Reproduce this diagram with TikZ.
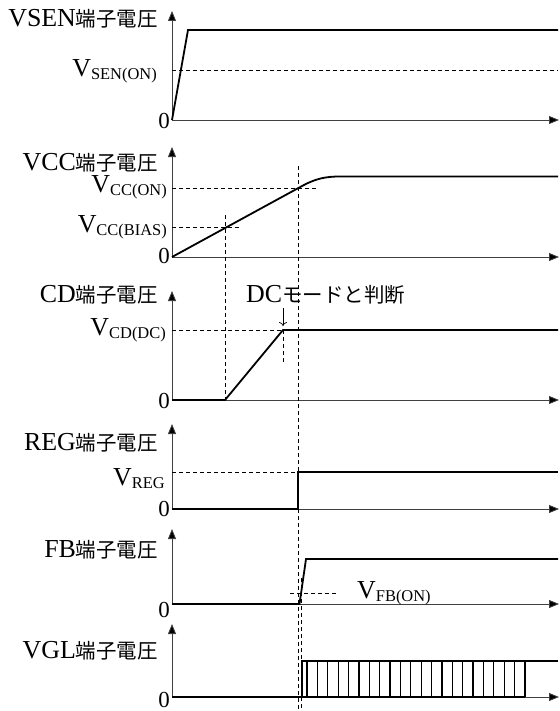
\documentclass[tikz,border=0pt]{standalone}
\usepackage{fontspec}
\setmainfont{Liberation Serif}
\newfontfamily\jp[Scale=0.79]{Noto Sans CJK JP}
\usetikzlibrary{arrows.meta}
\newcommand{\vlab}[2]{{\fontsize{26}{26}\selectfont #1}\raisebox{-3bp}{\fontsize{16.5}{16.5}\selectfont #2}}

\begin{document}
\begin{tikzpicture}[
      x=1bp, y=-1bp,
      font=\fontsize{26}{26}\selectfont,
      every node/.style={inner sep=0pt},
      axis/.style={draw=black!75, line width=0.8bp, -{Triangle[length=10bp, width=8bp, fill=black]}},
      sig/.style={line width=1.8bp, line join=miter},
      guide/.style={dash pattern=on 4bp off 3bp, line width=0.75bp},
      title/.style={anchor=base east},
      zero/.style={anchor=east, font=\fontsize{23}{23}\selectfont},
      lvl/.style={anchor=base east},
      pointer/.style={line width=0.7bp, -{To[length=4bp, width=8bp]}},
  ]
      \useasboundingbox (0,0) rectangle (560,711);

      % VSEN
      \node[title] (vsen) at (158,27) {VSEN{\jp 端子電圧}};
      \coordinate (o1) at (172,120);
      \draw[axis] (o1) -- (172,11);
      \draw[axis] (o1) -- (559,120);
      \node[zero] (z1) at (170,121) {0};
      \draw[guide] (172,70) -- (558,70);
      \node[lvl] (vsenon) at (157,77) {\vlab{V}{SEN(ON)}};
      \draw[sig] (o1) -- (188,30) -- (558,30);

      % VCC
      \node[title] (vcc) at (158,170) {VCC{\jp 端子電圧}};
      \coordinate (o2) at (172,257);
      \draw[axis] (o2) -- (172,147);
      \draw[axis] (o2) -- (559,257);
      \node[zero] (z2) at (170,256) {0};
      \draw[guide] (172,188) -- (319,188);
      \draw[guide] (172,227) -- (241,227);
      \node[lvl] (vccon) at (167,192) {\vlab{V}{CC(ON)}};
      \node[lvl] (vccbias) at (167,232) {\vlab{V}{CC(BIAS)}};
      \draw[sig] (o2) -- (303,185.5) .. controls (316,178.5) and (326,176.5) .. (340,176.5) -- (558,176.5);

      % CD
      \node[title] (cd) at (158,302) {CD{\jp 端子電圧}};
      \coordinate (o3) at (172,400);
      \draw[axis] (o3) -- (172,291);
      \draw[axis] (o3) -- (559,400);
      \node[zero] (z3) at (170,401) {0};
      \coordinate (dcpt) at (283,330);
      \draw[guide] (172,330) -- (dcpt);
      \draw[guide] (dcpt) -- (283,363);
      \node[lvl] (vcddc) at (166,335) {\vlab{V}{CD(DC)}};
      \node[anchor=base west] (dcjudge) at (246,302) {DC{\jp モードと判断}};
      \draw[pointer] (283,308) -- (283,326);
      \draw[sig] (o3) -- (225,400) -- (dcpt) -- (558,330);

      % REG
      \node[title] (reg) at (158,450) {REG{\jp 端子電圧}};
      \coordinate (o4) at (172,509);
      \draw[axis] (o4) -- (172,424);
      \draw[axis] (o4) -- (559,509);
      \node[zero] (z4) at (170,509) {0};
      \draw[guide] (172,472) -- (298,472);
      \node[lvl] (vreg) at (165,485) {\vlab{V}{REG}};
      \draw[sig] (o4) -- (298,509) -- (298,472) -- (558,472);

      % FB
      \node[title] (fb) at (158,557) {FB{\jp 端子電圧}};
      \coordinate (o5) at (172,604);
      \draw[axis] (o5) -- (172,529);
      \draw[axis] (o5) -- (559,604);
      \node[zero] (z5) at (170,610) {0};
      \draw[guide] (290,593) -- (338,593);
      \node[anchor=base west] (vfbon) at (357,598) {\vlab{V}{FB(ON)}};
      \draw[sig] (o5) -- (299.5,604) -- (306,559) -- (558,559);

      % VGL
      \node[title] (vgl) at (158,658) {VGL{\jp 端子電圧}};
      \coordinate (o6) at (172,697);
      \draw[axis] (o6) -- (172,624);
      \draw[axis] (o6) -- (559,697);
      \node[zero] (z6) at (170,699.5) {0};
      \draw[sig] (o6) -- (302,697) -- (302,661) -- (558,661);
      \draw[line width=1.4bp] (302,697) -- (525,697);
      \foreach \k in {0,...,21}
          \draw[line width=1.2bp] ({307+10.38*\k},661) -- ({307+10.38*\k},697);

      % timing guides
      \draw[guide] (225,215) -- (225,402);
      \draw[guide] (298,166) -- (298,711);
      \draw[guide] (301.5,578) -- (301.5,711);

\end{tikzpicture}
\end{document}
